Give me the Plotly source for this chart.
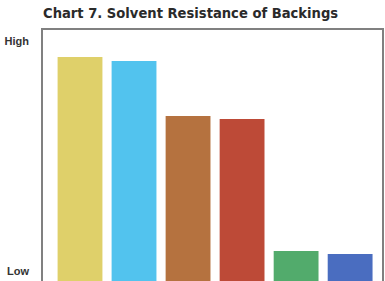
import plotly.graph_objects as go

categories = ["A", "B", "C", "D", "E", "F"]
values = [89.2, 87.6, 65.7, 64.5, 12.0, 10.8]
colors = ["#DFD06A", "#52C3EE", "#B5723F", "#BD4A37", "#52AB6C", "#4A6DC0"]
tick_vals = [4.0, 95.6]
tick_text = ["<b>Low</b>", "<b>High</b>"]

fig = go.Figure(go.Bar(
    x=list(range(len(categories))), y=values,
    marker=dict(color=colors, line=dict(width=0)),
    width=0.83,
))

fig.update_layout(
    width=385, height=281,
    margin=dict(l=43, r=3, t=30, b=0),
    paper_bgcolor="white", plot_bgcolor="white",
    showlegend=False,
    title=dict(
        text="<b>Chart 7. Solvent Resistance of Backings</b>",
        x=0, xref="paper", xanchor="left", y=1, yref="container", yanchor="top", pad=dict(t=8),
        font=dict(family="DejaVu Sans Condensed, DejaVu Sans", size=14.6, color="#2a2a2a"),
    ),
    xaxis=dict(range=[-0.685, 5.59], side="top", showticklabels=False, showgrid=False, zeroline=False,
               showline=True, linecolor="#808080", linewidth=1.5, ticks=""),
    yaxis=dict(range=[0, 100], tickvals=tick_vals, ticktext=tick_text, showgrid=False, zeroline=False,
               showline=True, mirror=True, linecolor="#808080", linewidth=1.5, ticks="", ticklabelstandoff=10,
               tickfont=dict(family="Liberation Sans, Arial", size=11, color="#333")),
)

fig.write_html("out.html")
